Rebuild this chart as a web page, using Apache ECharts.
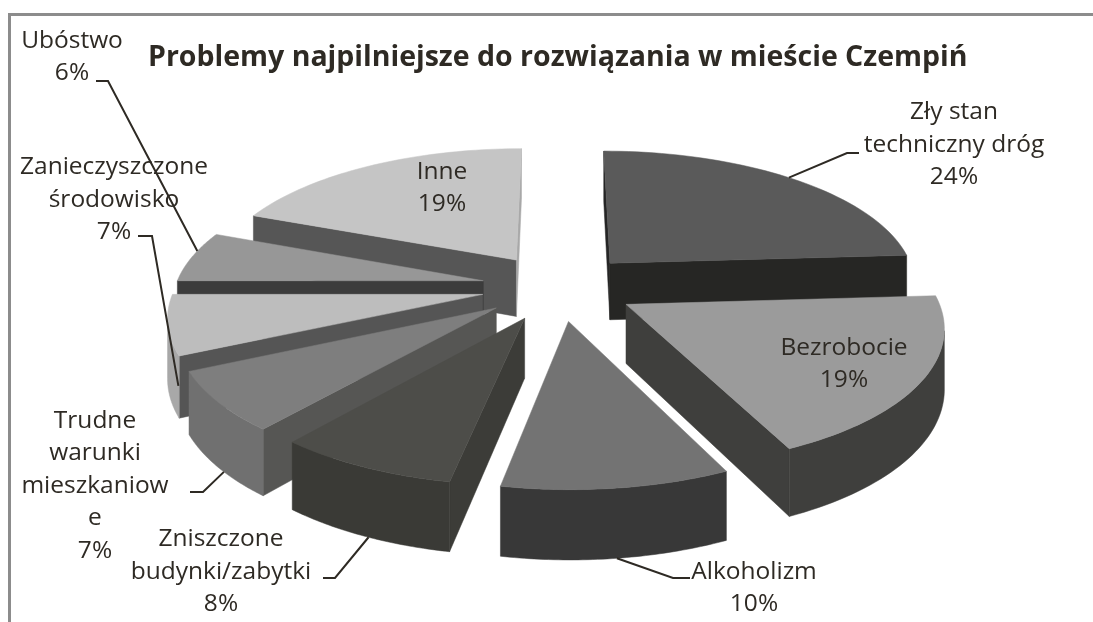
<!DOCTYPE html>
<html><head><meta charset="utf-8">
<style>html,body{margin:0;padding:0;background:#fff}#c{width:1093px;height:622px}</style>
<script src="https://cdn.jsdelivr.net/npm/echarts@6/dist/echarts.min.js"></script>
</head><body><div id="c"></div>
<script>
const titleText = 'Problemy najpilniejsze do rozwiązania w mieście Czempiń';
const categories = ['Zły stan\ntechniczny dróg','Bezrobocie','Alkoholizm','Zniszczone\nbudynki/zabytki','Trudne\nwarunki\nmieszkaniow\ne','Zanieczyszczone\nśrodowisko','Ubóstwo','Inne'];
const values = [24,19,10,8,7,7,6,19];

// styles: [top face, wall at slice start, arc wall, wall at slice end]
const shades = [
  ['#5a5a5a','#252525','#252525','#262624'],
  ['#9b9b9b','#3f3f3d','#3f3f3d','#3f3f3d'],
  ['#737373','#3a3a3a','#383838','#3a3a3a'],
  ['#4d4d49','#3c3c38','#3a3a36','#3c3c38'],
  ['#7e7e7e','#565654','#707070','#565654'],
  ['#bdbdbd','#555555','#a8a8a8','#555555'],
  ['#979797','#3c3c3c','#8a8a8a','#3c3c3c'],
  ['#c5c5c5','#565656','#8a8a8a','#a8a8a8']
];
const paintOrder = [1,4,7,6,5,3,2,0]; // back-to-front layer for each slice
const view = {cx:558.5, cy:287, rx:308, ry:134, persp:0.14, pull:0.25, depth:58};

const total = values.reduce((a,b)=>a+b,0);
const starts = []; values.reduce((a,v,i)=>(starts[i]=a,a+v),0);

function project(u,v,h){
  const s = 1/(1-view.persp*v);
  return [view.cx+view.rx*u*s, view.cy+view.ry*v*s+view.depth*s*h];
}
function sliceGeom(i){
  const a0 = starts[i]/total*2*Math.PI, a1 = (starts[i]+values[i])/total*2*Math.PI, mid=(a0+a1)/2;
  const ou = view.pull*Math.sin(mid), ov = -view.pull*Math.cos(mid);
  const at = (t,h)=>{const a=a0+(a1-a0)*t; return project(ou+Math.sin(a),ov-Math.cos(a),h);};
  const apex = h=>project(ou,ov,h);
  return {at,apex};
}
function quad(p,fill,z){return {type:'polygon',z2:z,shape:{points:p},style:{fill,stroke:fill,lineWidth:0.5}};}

function renderSlice(params){
  const i = params.dataIndex, g = sliceGeom(i), base = paintOrder[i]*10, c = shades[i];
  const N = 48, arcTop = [], arcBot = [];
  for(let k=0;k<=N;k++){arcTop.push(g.at(k/N,0));arcBot.push(g.at(k/N,1));}
  const a=g.apex(0), ab=g.apex(1), kids=[];
  if(arcTop[0][0]<a[0]) kids.push(quad([a,arcTop[0],arcBot[0],ab],c[1],base));
  if(a[0]<arcTop[N][0]) kids.push(quad([arcTop[N],a,ab,arcBot[N]],c[3],base));
  let run=[];
  const flush=()=>{ if(run.length>1){kids.push(quad(run.map(k=>arcTop[k]).concat(run.slice().reverse().map(k=>arcBot[k])),c[2],base+1));} run=[]; };
  for(let k=0;k<=N;k++){
    const vis = (k<N && arcTop[k+1][0]<arcTop[k][0]) || (k>0 && arcTop[k][0]<arcTop[k-1][0]);
    if(vis) run.push(k); else flush();
  }
  flush();
  kids.push(quad([a].concat(arcTop),c[0],base+2));
  return {type:'group',children:kids};
}

// label placement: text centre, optional leader (label end, elbow, arc fraction, height on wall)
const labelPlace = [
  {x:954,y:145,from:[859,153],elbow:[847,153],t:0.49,h:0},
  {x:844,y:364},
  {x:754,y:588,from:[690,578],elbow:[673,578],t:0.5,h:1},
  {x:221,y:572,from:[323,578],elbow:[335,578],t:0.47,h:1},
  {x:95,y:486,from:[190,492],elbow:[203,492],t:0.42,h:1},
  {x:114,y:200,from:[138,236],elbow:[152,236],t:0.02,h:0.5},
  {x:72,y:57,from:[96,81],elbow:[108,81],t:0.62,h:0},
  {x:442,y:188}
];
function renderLabel(params){
  const i = params.dataIndex, p = labelPlace[i], kids=[];
  kids.push({type:'text',z2:200,style:{x:p.x,y:p.y,text:categories[i]+'\n'+values[i]+'%',
    fill:'#2e2a24',font:'24.5px "Open Sans"',lineHeight:32.5,align:'center',verticalAlign:'middle'}});
  if(p.from){
    const end = sliceGeom(i).at(p.t,p.h);
    kids.push({type:'polyline',z2:190,shape:{points:[p.from,p.elbow,end]},style:{fill:null,stroke:'#2e2a24',lineWidth:2}});
  }
  return {type:'group',children:kids};
}

const chart = echarts.init(document.getElementById('c'),null,{renderer:'canvas'});
chart.setOption({
  animation:false,
  backgroundColor:'#ffffff',
  title:{text:titleText,left:143,top:38,textStyle:{fontFamily:'"Open Sans"',fontWeight:'bold',fontSize:28.5,color:'#2e2a24'}},
  graphic:[
    {type:'rect',silent:true,shape:{x:8,y:13,width:1090,height:3},style:{fill:'#8c8c8c'}},
    {type:'rect',silent:true,shape:{x:8,y:13,width:3,height:612},style:{fill:'#8c8c8c'}}
  ],
  series:[
    {type:'custom',coordinateSystem:'none',silent:true,renderItem:renderSlice,data:values.map(v=>[v]),z:2},
    {type:'custom',coordinateSystem:'none',silent:true,renderItem:renderLabel,data:values.map(v=>[v]),z:3}
  ]
});
</script></body></html>
